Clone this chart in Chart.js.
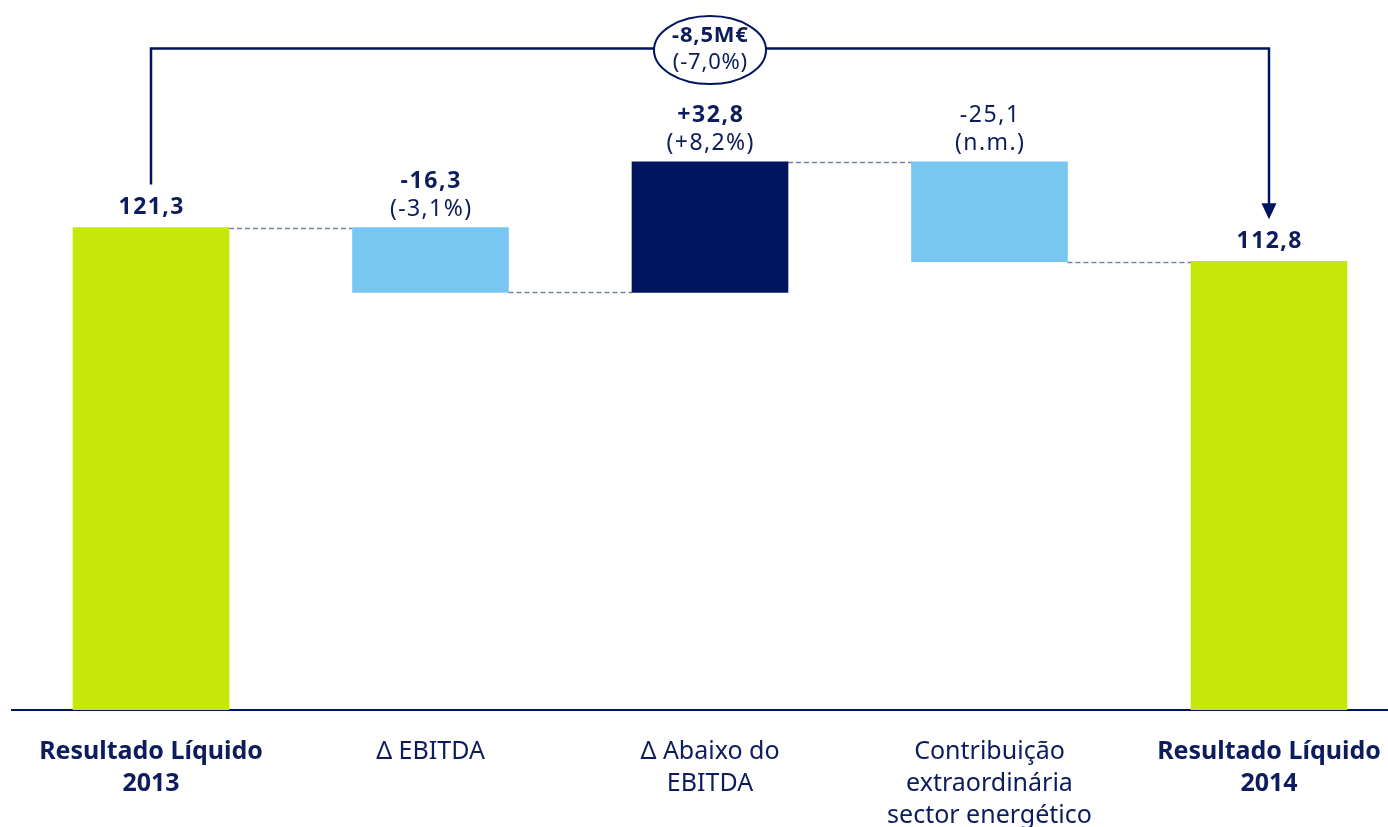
<!DOCTYPE html>
<html>
<head>
<meta charset="utf-8">
<script src="https://cdn.jsdelivr.net/npm/chart.js@4/dist/chart.umd.min.js"></script>
<style>
  html, body { margin: 0; padding: 0; background: #ffffff; overflow: hidden; }
  #wrap { position: relative; width: 1388px; height: 827px; }
</style>
</head>
<body>
<div id="wrap"><canvas id="c" width="1388" height="827"></canvas></div>
<script>
// ---- data ----
const categories = [
  ["Resultado Líquido", "2013"],
  ["Δ EBITDA"],
  ["Δ Abaixo do", "EBITDA"],
  ["Contribuição", "extraordinária", "sector energético"],
  ["Resultado Líquido", "2014"]
];
const startValue = 121.3;
const deltas = [-16.3, 32.8, -25.1];
const endValue = 112.8;
const valueLabels = ["121,3", "-16,3", "+32,8", "-25,1", "112,8"];
const valueBold = [true, true, true, false, true];
const pctLabels = [null, "(-3,1%)", "(+8,2%)", "(n.m.)", null];
const totalChangeLabel = "-8,5M€";
const totalChangePct = "(-7,0%)";
const bracketLevel = 166.3;

// ---- colours ----
const NAVY = "#001560";
const TEXT = "#0c1c5c";
const GREEN = "#c5e80a";
const LIGHT = "#78c7f1";
const DARK = "#001560";
const CONNECT = "#7880ac";
const FONT = "'Noto Sans', 'Open Sans', sans-serif";

// build floating bars from the values
const floats = [];
let running = startValue;
floats.push([0, startValue]);
deltas.forEach(d => {
  const next = Math.round((running + d) * 10) / 10;
  floats.push([running, next]);
  running = next;
});
floats.push([0, endValue]);
const colors = [GREEN].concat(deltas.map(d => d < 0 ? LIGHT : DARK)).concat([GREEN]);
const points = floats.map((f, i) => ({ x: i, y: f }));

function drawText(ctx, txt, x, y, bold, size, spacing) {
  ctx.save();
  ctx.font = (bold ? "bold " : "") + size + "px " + FONT;
  ctx.letterSpacing = (spacing || 0) + "px";
  ctx.fillStyle = TEXT;
  ctx.textAlign = "center";
  ctx.textBaseline = "middle";
  ctx.fillText(txt, x + (spacing || 0) / 2, y);
  ctx.restore();
}

const overlay = {
  id: "overlay",
  beforeDatasetsDraw(chart) {
    const ctx = chart.ctx;
    const meta = chart.getDatasetMeta(0);
    const ys = chart.scales.y;
    ctx.save();
    ctx.strokeStyle = CONNECT;
    ctx.lineWidth = 1.6;
    ctx.setLineDash([5, 3]);
    for (let i = 0; i < meta.data.length - 1; i++) {
      const a = meta.data[i], b = meta.data[i + 1];
      const level = floats[i][1];
      const py = Math.round(ys.getPixelForValue(level)) + 0.5;
      ctx.beginPath();
      ctx.moveTo(a.x + a.width / 2, py);
      ctx.lineTo(b.x - b.width / 2, py);
      ctx.stroke();
    }
    ctx.restore();
  },
  afterDatasetsDraw(chart) {
    const ctx = chart.ctx;
    const meta = chart.getDatasetMeta(0);
    const ys = chart.scales.y;
    const xs = chart.scales.x;
    meta.data.forEach((el, i) => {
      const top = Math.min(el.y, el.base);
      if (pctLabels[i]) {
        drawText(ctx, valueLabels[i], el.x, top - 46, valueBold[i], 23, 1.6);
        drawText(ctx, pctLabels[i], el.x, top - 18, false, 23, 1.4);
      } else {
        drawText(ctx, valueLabels[i], el.x, top - 20, valueBold[i], 23, 1.4);
      }
    });
    const first = meta.data[0], last = meta.data[meta.data.length - 1];
    const by = ys.getPixelForValue(bracketLevel);
    const y0 = Math.min(first.y, first.base) - 43;
    const tipY = Math.min(last.y, last.base) - 42;
    ctx.save();
    ctx.strokeStyle = NAVY;
    ctx.fillStyle = NAVY;
    ctx.lineWidth = 2.5;
    ctx.beginPath();
    ctx.moveTo(first.x, y0);
    ctx.lineTo(first.x, by);
    ctx.lineTo(last.x, by);
    ctx.lineTo(last.x, tipY - 14);
    ctx.stroke();
    ctx.beginPath();
    ctx.moveTo(last.x - 7.5, tipY - 16);
    ctx.lineTo(last.x + 7.5, tipY - 16);
    ctx.lineTo(last.x, tipY);
    ctx.closePath();
    ctx.fill();
    const cx = xs.getPixelForValue(2);
    const cy = by + 1.5;
    ctx.beginPath();
    ctx.ellipse(cx, cy, 56, 34, 0, 0, Math.PI * 2);
    ctx.fillStyle = "#ffffff";
    ctx.fill();
    ctx.lineWidth = 2;
    ctx.strokeStyle = NAVY;
    ctx.stroke();
    ctx.restore();
    drawText(ctx, totalChangeLabel, cx, cy - 14, true, 22, 0.8);
    drawText(ctx, totalChangePct, cx, cy + 13, false, 22, 0.8);
  }
};

new Chart(document.getElementById("c"), {
  type: "bar",
  data: {
    datasets: [{
      data: points,
      backgroundColor: colors,
      borderWidth: 0,
      barThickness: 156
    }]
  },
  options: {
    responsive: false,
    animation: false,
    events: [],
    layout: { padding: { top: 10, left: 12, right: 0, bottom: 0 } },
    plugins: { legend: { display: false }, tooltip: { enabled: false } },
    scales: {
      x: {
        type: "linear",
        offset: false,
        min: -0.4973,
        max: 4.4258,
        grid: { display: false, drawTicks: false, offset: false },
        border: { display: true, color: NAVY, width: 2 },
        afterBuildTicks(scale) {
          scale.ticks = categories.map((c, i) => ({ value: i }));
        },
        afterFit(scale) {
          scale.height = 117;
          scale.paddingLeft = 0;
          scale.paddingRight = 0;
        },
        ticks: {
          autoSkip: false,
          maxRotation: 0,
          minRotation: 0,
          padding: 26,
          color: TEXT,
          font: (ctx) => ({
            family: FONT,
            size: 25,
            weight: (ctx.index === 0 || ctx.index === categories.length - 1) ? "bold" : "normal",
            lineHeight: 32 / 25
          }),
          callback: (v) => categories[v]
        }
      },
      y: {
        display: false,
        min: 0,
        max: 176
      }
    }
  },
  plugins: [overlay]
});
</script>
</body>
</html>
